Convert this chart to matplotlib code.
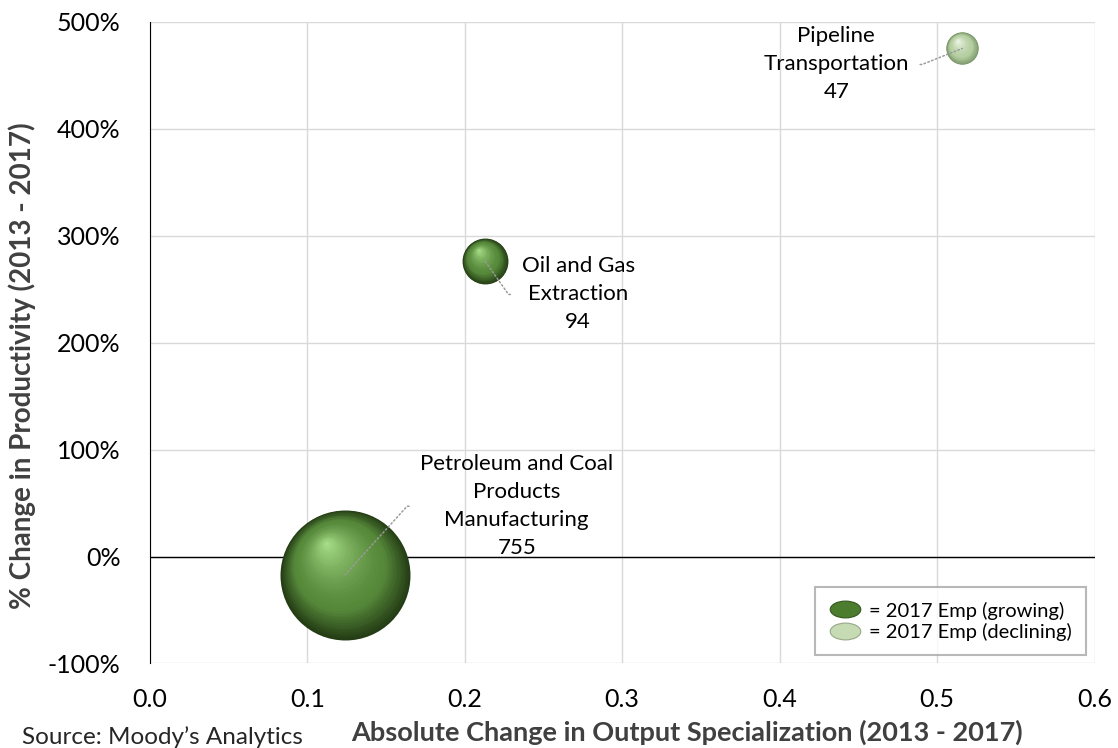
import numpy as np
import matplotlib.pyplot as plt
from matplotlib.colors import to_rgb
from matplotlib.lines import Line2D
from matplotlib.patches import ConnectionStyle
from matplotlib.path import Path
from matplotlib.ticker import FuncFormatter, MultipleLocator
from matplotlib.transforms import ScaledTranslation, Affine2D

plt.rcParams['font.family'] = ['Lato', 'DejaVu Sans']

# Industry bubbles: change in specialization, % change in productivity, 2017 employment
industries = ["Petroleum and Coal\nProducts\nManufacturing", "Oil and Gas\nExtraction", "Pipeline\nTransportation"]
spec_change = [0.124, 0.213, 0.516]
prod_change = [-17, 276, 475]
emp_2017 = [755, 94, 47]
growing = [True, True, False]

# label placement (data coords)
label_x = [0.233, 0.272, 0.436]
label_y = [47, 245, 460]

size_scale = 11.6

fig = plt.figure(figsize=(11.18, 7.48), dpi=100)
ax = fig.add_axes([0.134, 0.113, 0.845, 0.858])

ax.set_xlim(0, 0.6)
ax.set_ylim(-100, 500)
ax.xaxis.set_major_locator(MultipleLocator(0.1))
ax.yaxis.set_major_locator(MultipleLocator(100))
ax.xaxis.set_major_formatter(FuncFormatter(lambda v, p: f"{v:.1f}"))
ax.yaxis.set_major_formatter(FuncFormatter(lambda v, p: f"{v:.0f}%"))
ax.grid(True, color="#d9d9d9", linewidth=1)
ax.set_axisbelow(True)
ax.tick_params(length=0, labelsize=18)
ax.tick_params(axis="x", pad=18)
ax.tick_params(axis="y", pad=21)
for side in ["top", "right", "bottom"]:
    ax.spines[side].set_visible(False)
ax.spines["left"].set_color("black")
ax.axhline(0, color="black", linewidth=1, zorder=1)


def shade(c1, c2, t):
    a, b = np.array(to_rgb(c1)), np.array(to_rgb(c2))
    return tuple(a + (b - a) * t)


palettes = {
    True: ("#243d15", "#56883a", "#a6dc87"),
    False: ("#7a9669", "#b5cea1", "#eef6e6"),
}

# draw each bubble as stacked discs to give a sphere look
layers = 40
for x, y, emp, grow in zip(spec_change, prod_change, emp_2017, growing):
    s = emp * size_scale
    r_pt = np.sqrt(s) / 2
    edge, mid, hi = palettes[grow]
    for i in range(layers):
        f = 1 - i / layers
        t = i / (layers - 1)
        if t < 0.3:
            col = shade(edge, mid, t / 0.3)
        else:
            col = shade(mid, hi, ((t - 0.3) / 0.7) ** 1.5)
        dx = -(1 - f) * r_pt * 0.3
        dy = (1 - f) * r_pt * 0.5
        tr = ax.transData + ScaledTranslation(dx / 72, dy / 72, fig.dpi_scale_trans)
        ax.scatter([x], [y], s=s * f * f, color=col, linewidths=0,
                   transform=tr, zorder=3)

for name, x, y, emp, lx, ly in zip(industries, spec_change, prod_change, emp_2017, label_x, label_y):
    right = lx < x
    conn = ConnectionStyle.Arc(angleA=0 if right else 180, angleB=0,
                               armA=13, armB=0, rad=0)
    ax.annotate(f"{name}\n{emp}", xy=(x, y), xytext=(lx, ly),
                ha="center", va="center", fontsize=16, linespacing=1.5,
                zorder=5,
                arrowprops=dict(arrowstyle="-", color="#9a9a9a", linestyle=":",
                                linewidth=1.1, relpos=(1 if right else 0, 0.5),
                                connectionstyle=conn, shrinkA=6, shrinkB=0))

# flattened circle for the legend keys
oval = Path.unit_circle().transformed(Affine2D().scale(1, 0.55))
handles = [
    Line2D([], [], marker=oval, linestyle="none", markersize=22,
           markerfacecolor="#4c7c2e", markeredgecolor="#34561f", markeredgewidth=0.8),
    Line2D([], [], marker=oval, linestyle="none", markersize=22,
           markerfacecolor="#c6dab4", markeredgecolor="#95a886", markeredgewidth=0.8),
]
leg = ax.legend(handles, ["= 2017 Emp (growing)", "= 2017 Emp (declining)"],
                loc="lower right", fontsize=14.5, frameon=True, fancybox=False,
                borderpad=0.7, handlelength=1.6, handletextpad=0.4,
                labelspacing=0.15, bbox_to_anchor=(1.002, -0.002))
leg.get_frame().set_edgecolor("#a6a6a6")
leg.get_frame().set_linewidth(1.5)

ax.set_xlabel("Absolute Change in Output Specialization (2013 - 2017)",
              fontsize=19.5, fontweight="bold", color="#404040")
ax.xaxis.set_label_coords(0.924, -0.12)
ax.xaxis.label.set_ha("right")
ax.xaxis.label.set_va("baseline")

ax.set_ylabel("% Change in Productivity (2013 - 2017)",
              fontsize=20, fontweight="bold", color="#404040")
ax.yaxis.set_label_coords(-0.135, 0.464)
ax.yaxis.label.set_va("center")

fig.text(0.0197, 0.006, "Source: Moody\u2019s Analytics", fontsize=17.5, color="#262626")

fig.savefig("out.png", dpi=100)
